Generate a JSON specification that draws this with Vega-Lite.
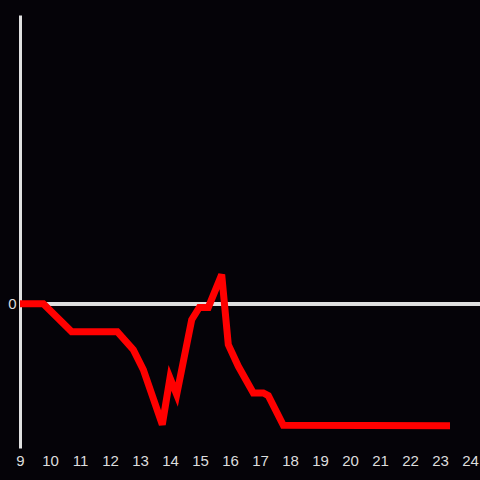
{
  "$schema": "https://vega.github.io/schema/vega-lite/v6.json",
  "width": 460,
  "height": 433,
  "autosize": {"type": "none"},
  "padding": {"left": 20, "top": 15, "right": 0, "bottom": 32},
  "background": "#050308",
  "config": {"view": {"stroke": null}, "font": "Liberation Sans"},
  "data": {"values": [
    {"x": 9, "y": 0},
    {"x": 9.777, "y": 0},
    {"x": 10.723, "y": -0.194},
    {"x": 12.243, "y": -0.194},
    {"x": 12.777, "y": -0.319},
    {"x": 13.11, "y": -0.457},
    {"x": 13.743, "y": -0.838},
    {"x": 14.0, "y": -0.515},
    {"x": 14.223, "y": -0.63},
    {"x": 14.723, "y": -0.111},
    {"x": 14.977, "y": -0.026},
    {"x": 15.277, "y": -0.026},
    {"x": 15.723, "y": 0.201},
    {"x": 15.943, "y": -0.284},
    {"x": 16.277, "y": -0.434},
    {"x": 16.777, "y": -0.619},
    {"x": 17.11, "y": -0.619},
    {"x": 17.277, "y": -0.637},
    {"x": 17.777, "y": -0.843},
    {"x": 23.333, "y": -0.845}
  ]},
  "layer": [
    {
      "mark": {"type": "rule", "color": "#e0e0e0", "strokeWidth": 3},
      "encoding": {"y": {"datum": 0, "type": "quantitative"}}
    },
    {
      "mark": {"type": "line", "color": "#ff0000", "strokeWidth": 7, "strokeJoin": "miter", "strokeCap": "butt"},
      "encoding": {
        "x": {"field": "x", "type": "quantitative", "scale": {"domain": [9, 24.333], "nice": false, "zero": false},
          "axis": {"title": null, "values": [9,10,11,12,13,14,15,16,17,18,19,20,21,22,23,24], "format": "d", "domain": false, "ticks": false, "grid": false, "labelColor": "#dddddd", "labelFontSize": 15, "labelPadding": 5, "labelFlush": false, "labelOverlap": false}},
        "y": {"field": "y", "type": "quantitative", "scale": {"domain": [-1, 2], "nice": false},
          "axis": {"title": null, "values": [0], "format": "d", "domain": true, "domainColor": "#e0e0e0", "domainWidth": 3, "ticks": false, "grid": false, "labelColor": "#dddddd", "labelFontSize": 15, "labelPadding": 4}}
      }
    }
  ]
}
